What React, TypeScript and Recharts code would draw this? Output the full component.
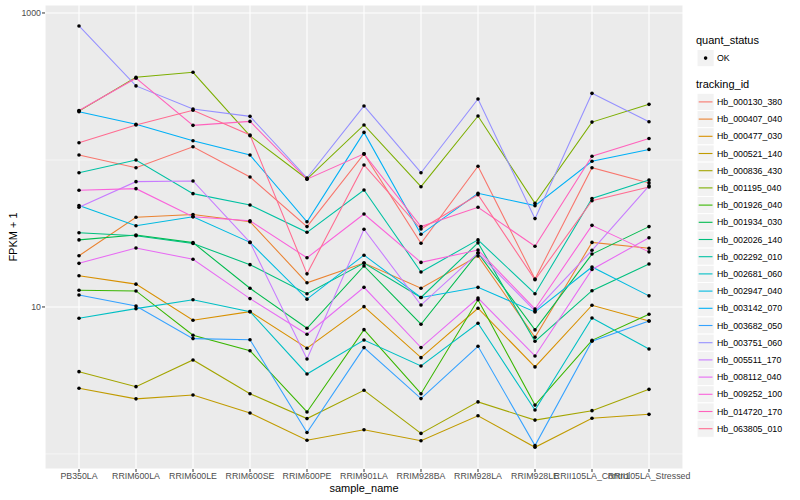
import React from "react";
import { CartesianGrid, Legend, Line, LineChart, ReferenceLine, XAxis, YAxis } from "recharts";

const samples = [
  "PB350LA",
  "RRIM600LA",
  "RRIM600LE",
  "RRIM600SE",
  "RRIM600PE",
  "RRIM901LA",
  "RRIM928BA",
  "RRIM928LA",
  "RRIM928LE",
  "RRII105LA_Control",
  "RRII105LA_Stressed",
];

// FPKM + 1, one value per sample
const hb000130_380 = [108, 88.6, 123, 76.6, 35.2, 110, 27.1, 90.6, 15.5, 88.6, 69.8];
const hb000407_040 = [22.3, 40.8, 42.5, 38.0, 14.6, 19.9, 13.4, 22.2, 6.22, 27.5, 25.1];
const hb000477_030 = [16.3, 14.3, 8.12, 9.29, 5.24, 10.05, 4.52, 9.8, 3.91, 10.27, 8.03];
const hb000521_140 = [2.8, 2.37, 2.52, 1.9, 1.24, 1.46, 1.23, 1.82, 1.11, 1.75, 1.86];
const hb000836_430 = [3.63, 2.87, 4.36, 2.57, 1.74, 2.71, 1.38, 2.26, 1.7, 1.97, 2.75];
const hb001195_040 = [215, 365, 395, 146, 74.2, 173, 65.8, 199, 50.7, 181, 239];
const hb001926_040 = [13.0, 12.85, 6.42, 5.04, 1.93, 7.01, 2.57, 11.2, 2.15, 5.93, 8.92];
const hb001934_030 = [28.6, 30.9, 27.4, 13.4, 7.16, 19.0, 7.63, 23.3, 6.98, 22.9, 35.2];
const hb002026_140 = [32.0, 30.5, 27.0, 19.4, 12.3, 19.9, 11.6, 27.3, 5.84, 12.9, 19.6];
const hb002292_010 = [81.9, 100, 59.0, 49.4, 32.2, 62.5, 17.3, 28.6, 12.3, 54.7, 73.1];
const hb002681_060 = [8.38, 9.74, 11.2, 9.29, 3.5, 5.96, 3.97, 7.75, 1.99, 8.42, 5.18];
const hb002947_040 = [49.0, 35.7, 41.1, 27.5, 11.3, 22.5, 11.6, 13.6, 9.25, 18.7, 11.9];
const hb003142_070 = [213, 175, 135, 108, 38.0, 154, 31.2, 59.4, 48.9, 98.0, 118];
const hb003682_050 = [12.07, 10.16, 6.09, 5.99, 1.4, 5.29, 2.38, 5.4, 1.14, 5.84, 8.03];
const hb003751_060 = [816, 319, 222, 198, 75.4, 233, 81.9, 260, 39.9, 284, 182];
const hb005511_170 = [47.7, 71.2, 72.0, 27.5, 4.43, 33.8, 10.3, 23.3, 9.39, 24.3, 66.6];
const hb008112_040 = [19.8, 25.2, 21.1, 11.4, 6.52, 13.6, 5.29, 11.5, 4.64, 18.0, 29.6];
const hb009252_100 = [62.2, 63.8, 41.1, 38.6, 21.6, 42.9, 20.1, 24.4, 9.69, 35.9, 23.7];
const hb014720_170 = [217, 360, 172, 183, 74, 110, 35.2, 47.7, 25.9, 106, 140];
const hb063805_010 = [131, 173, 218, 148, 16.8, 92.5, 33.9, 58, 15.3, 52.8, 65.5];

const series = [
  { id: "Hb_000130_380", color: "#F8766D", values: hb000130_380 },
  { id: "Hb_000407_040", color: "#EA8331", values: hb000407_040 },
  { id: "Hb_000477_030", color: "#D89000", values: hb000477_030 },
  { id: "Hb_000521_140", color: "#C09B00", values: hb000521_140 },
  { id: "Hb_000836_430", color: "#A3A500", values: hb000836_430 },
  { id: "Hb_001195_040", color: "#7CAE00", values: hb001195_040 },
  { id: "Hb_001926_040", color: "#39B600", values: hb001926_040 },
  { id: "Hb_001934_030", color: "#00BB4E", values: hb001934_030 },
  { id: "Hb_002026_140", color: "#00BF7D", values: hb002026_140 },
  { id: "Hb_002292_010", color: "#00C1A3", values: hb002292_010 },
  { id: "Hb_002681_060", color: "#00BFC4", values: hb002681_060 },
  { id: "Hb_002947_040", color: "#00BAE0", values: hb002947_040 },
  { id: "Hb_003142_070", color: "#00B0F6", values: hb003142_070 },
  { id: "Hb_003682_050", color: "#35A2FF", values: hb003682_050 },
  { id: "Hb_003751_060", color: "#9590FF", values: hb003751_060 },
  { id: "Hb_005511_170", color: "#C77CFF", values: hb005511_170 },
  { id: "Hb_008112_040", color: "#E76BF3", values: hb008112_040 },
  { id: "Hb_009252_100", color: "#FA62DB", values: hb009252_100 },
  { id: "Hb_014720_170", color: "#FF62BC", values: hb014720_170 },
  { id: "Hb_063805_010", color: "#FF6C91", values: hb063805_010 },
];

const yTicks = [10, 1000];
const yMinor = [1, 100];

const font = '"Liberation Sans", Arial, sans-serif';

const rows = samples.map((s, i) => {
  const row: Record<string, string | number> = { sample_name: s };
  series.forEach((d) => {
    row[d.id] = d.values[i];
  });
  return row;
});

function GgLegend() {
  const top = 93.3;
  const step = 17.2;
  return (
    <svg width={110} height={450} style={{ fontFamily: font, overflow: "visible" }}>
      <text x={6} y={40} fontSize={11} dominantBaseline="central" fill="#000">
        quant_status
      </text>
      <rect x={7} y={49.5} width={17.2} height={17.2} fill="#F2F2F2" stroke="#fff" />
      <circle cx={15.6} cy={58.1} r={1.8} fill="#000" />
      <text x={27} y={58.1} fontSize={8.8} dominantBaseline="central" fill="#000">
        OK
      </text>
      <text x={6} y={84} fontSize={11} dominantBaseline="central" fill="#000">
        tracking_id
      </text>
      {series.map((d, i) => {
        const y = top + i * step;
        return (
          <g key={d.id}>
            <rect x={7} y={y} width={step} height={step} fill="#F2F2F2" stroke="#fff" />
            <line x1={8.7} x2={22.5} y1={y + step / 2} y2={y + step / 2} stroke={d.color} strokeWidth={1.1} />
            <text x={27} y={y + step / 2} fontSize={8.8} dominantBaseline="central" fill="#000">
              {d.id}
            </text>
          </g>
        );
      })}
    </svg>
  );
}

export default function App() {
  return (
    <div style={{ position: "absolute", left: 0, top: 0, fontFamily: font }}>
      <LineChart width={800} height={500} data={rows} margin={{ top: 5, right: 117, bottom: 0, left: 0 }}>
        <CartesianGrid stroke="#FFFFFF" strokeWidth={1.07} fill="#EBEBEB" fillOpacity={1} />
        {yMinor.map((v) => (
          <ReferenceLine key={v} y={v} stroke="#FFFFFF" strokeWidth={0.53} />
        ))}
        <XAxis
          dataKey="sample_name"
          interval={0}
          padding={{ left: 34, right: 34 }}
          height={31}
          axisLine={false}
          tickLine={{ stroke: "#333333" }}
          tickSize={3}
          tickMargin={1}
          tick={{ fontSize: 8.8, fill: "#4D4D4D", fontFamily: font }}
          label={{
            content: () => (
              <text x={364} y={488} textAnchor="middle" dominantBaseline="central" fontSize={11} fill="#000" fontFamily={font}>
                sample_name
              </text>
            ),
          }}
        />
        <YAxis
          type="number"
          scale="log"
          domain={[0.79, 1133]}
          allowDataOverflow
          ticks={yTicks}
          width={45}
          axisLine={false}
          tickLine={{ stroke: "#333333" }}
          tickSize={3}
          tickMargin={1}
          tick={{ fontSize: 8.8, fill: "#4D4D4D", fontFamily: font }}
          label={{
            content: () => (
              <text
                x={13}
                y={237}
                textAnchor="middle"
                dominantBaseline="central"
                fontSize={11}
                fill="#000"
                fontFamily={font}
                transform="rotate(-90 13 237)"
              >
                FPKM + 1
              </text>
            ),
          }}
        />
        {series.map((d) => (
          <Line
            key={d.id}
            type="linear"
            dataKey={d.id}
            stroke={d.color}
            strokeWidth={1.07}
            dot={{ r: 1.8, fill: "#000", stroke: "none" }}
            activeDot={false}
            isAnimationActive={false}
          />
        ))}
        <Legend
          layout="vertical"
          align="center"
          verticalAlign="middle"
          wrapperStyle={{ left: 690, top: 0, width: 110, height: 450 }}
          content={() => <GgLegend />}
        />
      </LineChart>
    </div>
  );
}
